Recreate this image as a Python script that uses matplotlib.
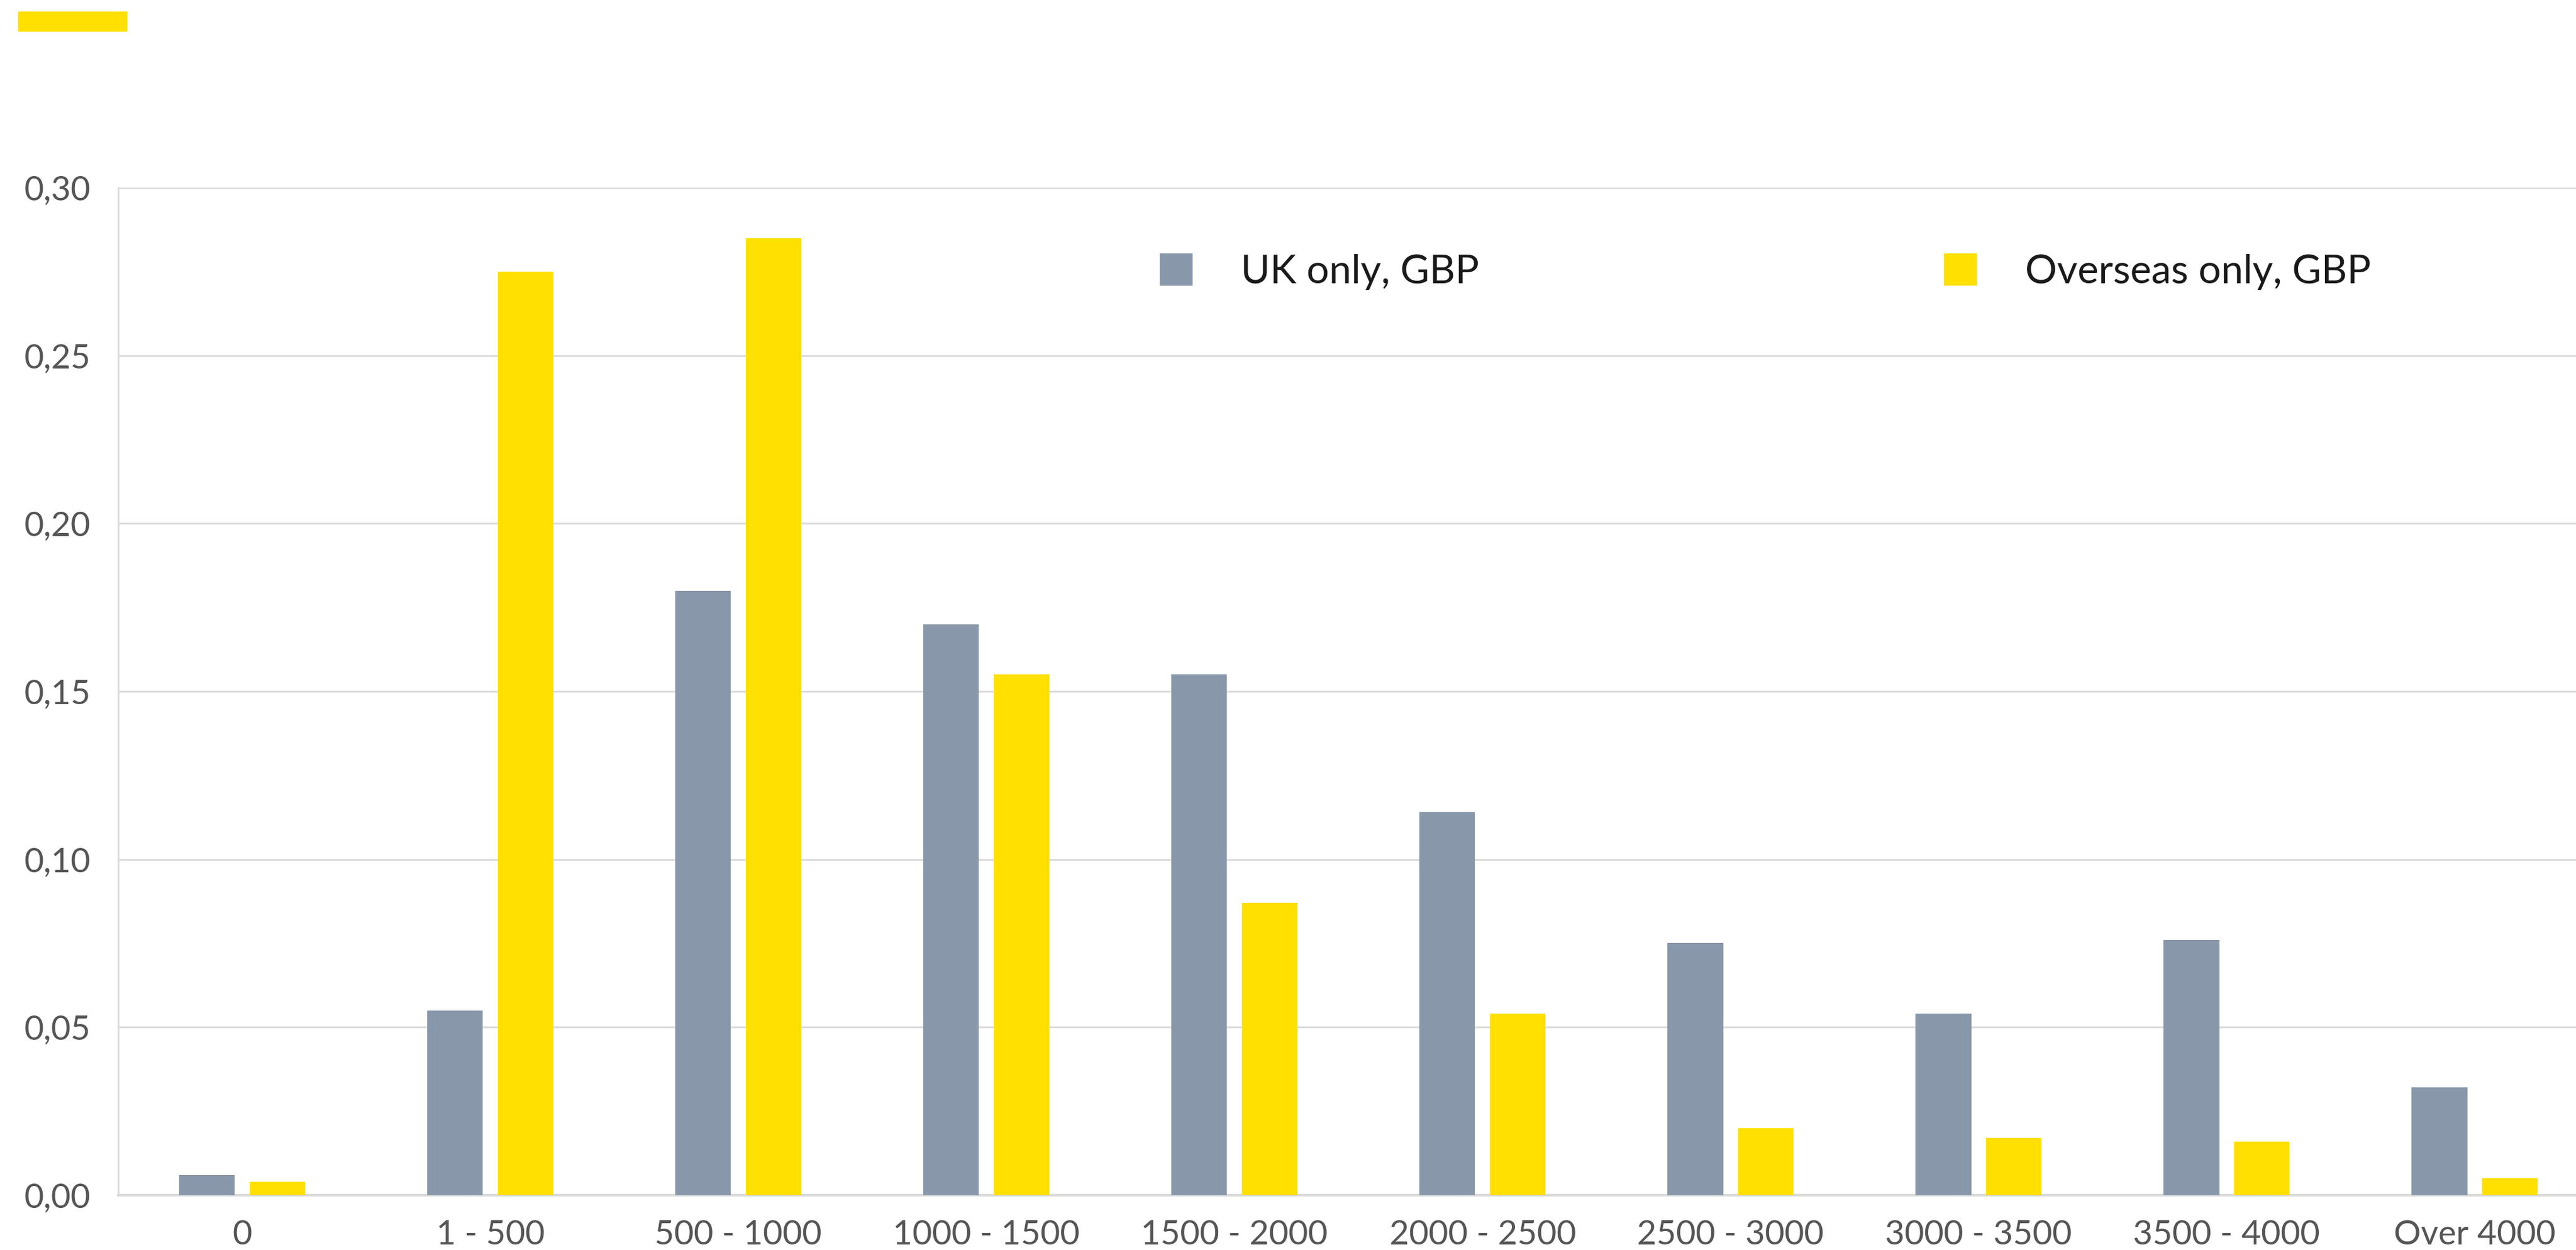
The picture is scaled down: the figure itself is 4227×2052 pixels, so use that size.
import numpy as np
import matplotlib as mpl
from matplotlib import pyplot as plt
from matplotlib.patches import Rectangle

# chart data
categories = ['0', '1 - 500', '500 - 1000', '1000 - 1500', '1500 - 2000',
              '2000 - 2500', '2500 - 3000', '3000 - 3500', '3500 - 4000',
              'Over 4000']
uk_only = [0.006, 0.055, 0.180, 0.170, 0.155, 0.114, 0.075, 0.054, 0.076, 0.032]
overseas_only = [0.004, 0.275, 0.285, 0.155, 0.087, 0.054, 0.020, 0.017, 0.016, 0.005]
series_labels = ['UK only, GBP', 'Overseas only, GBP']
yticks = [0.0, 0.05, 0.10, 0.15, 0.20, 0.25, 0.30]

# colours
c_uk = '#8898aa'
c_os = '#ffe000'
c_grid = '#d9d9d9'
c_tick = '#555555'

mpl.rcParams['font.family'] = ['Lato', 'DejaVu Sans']

fig = plt.figure(figsize=(42.27, 20.52), dpi=100)
ax = fig.add_axes([194 / 4227, 0.0439, (4290 - 194) / 4227, 0.806])

x = np.arange(len(categories))
w = 0.224
off = 0.142
ax.bar(x - off, uk_only, width=w, color=c_uk, label=series_labels[0], zorder=3)
ax.bar(x + off, overseas_only, width=w, color=c_os, label=series_labels[1], zorder=3)

ax.set_xlim(-0.5, len(categories) - 1 + 0.563)
ax.set_ylim(0, 0.30)
ax.set_yticks(yticks)
ax.yaxis.set_major_formatter(mpl.ticker.FuncFormatter(lambda v, p: ('%.2f' % v).replace('.', ',')))
ax.set_xticks(x)
ax.set_xticklabels(categories)

ax.grid(axis='y', color=c_grid, linewidth=2, zorder=0)
ax.tick_params(axis='both', length=0, labelsize=40, labelcolor=c_tick)
ax.tick_params(axis='y', pad=33)
ax.tick_params(axis='x', pad=29)
for s in ['top', 'right']:
    ax.spines[s].set_visible(False)
ax.spines['left'].set_color(c_grid)
ax.spines['left'].set_linewidth(2)
ax.spines['bottom'].set_color(c_grid)
ax.spines['bottom'].set_linewidth(3)

leg = ax.legend(ncol=2, loc='center left', bbox_to_anchor=(1903 / 4227, 1 - 446 / 2052),
                bbox_transform=fig.transFigure, frameon=False, fontsize=47,
                handlelength=0.83, handleheight=0.86, handletextpad=1.2,
                columnspacing=11.7, borderpad=0, borderaxespad=0)
for t in leg.get_texts():
    t.set_color('#1a1a1a')

# yellow accent bar top-left
fig.patches.append(Rectangle((30 / 4227, 1 - 51 / 2052), 178 / 4227, 32 / 2052,
                             transform=fig.transFigure, color=c_os, zorder=5))

plt.savefig('out.png', dpi=100)
plt.close()
